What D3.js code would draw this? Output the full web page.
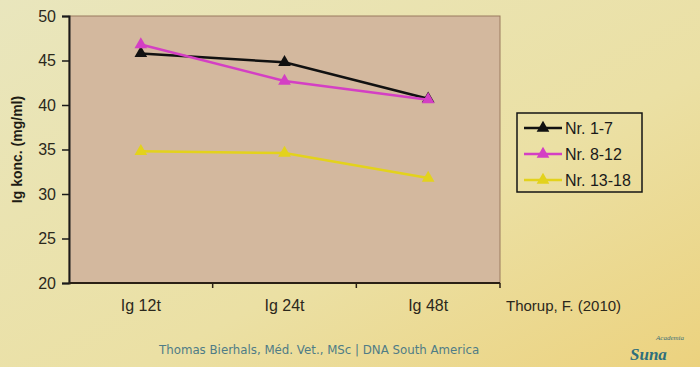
<!DOCTYPE html>
<html>
<head>
<meta charset="utf-8">
<script src="https://cdn.jsdelivr.net/npm/d3@7"></script>
<style>
  body { margin: 0; }
  svg { display: block; }
</style>
</head>
<body>
<div id="container"></div>
<script>
/* CONSTANTS AND GLOBALS */
const width = 700;
const height = 367;
const margin = { top: 16, right: 200, bottom: 84, left: 69 };

/* DATA */
const categories = ["Ig 12t", "Ig 24t", "Ig 48t"];
const seriesNames = ["Nr. 1-7", "Nr. 8-12", "Nr. 13-18"];
const nr1to7 = [45.8, 44.8, 40.7];
const nr8to12 = [46.8, 42.7, 40.6];
const nr13to18 = [34.8, 34.6, 31.8];
const yTicks = [20, 25, 30, 35, 40, 45, 50];
const colors = ["#111111", "#d43fc4", "#e3d21c"];

const series = [nr1to7, nr8to12, nr13to18].map((values, i) => ({
  name: seriesNames[i],
  color: colors[i],
  values: values.map((v, j) => ({ cat: categories[j], value: v }))
}));

const svg = d3.select("#container")
  .append("svg")
  .attr("width", width)
  .attr("height", height);

// background gradient (slide look)
const defs = svg.append("defs");
const bg = defs.append("linearGradient").attr("id", "bg")
  .attr("x1", "0%").attr("y1", "0%").attr("x2", "100%").attr("y2", "100%");
bg.append("stop").attr("offset", "0%").attr("stop-color", "#e9e6bd");
bg.append("stop").attr("offset", "60%").attr("stop-color", "#ebe0a4");
bg.append("stop").attr("offset", "100%").attr("stop-color", "#ecd27e");
svg.append("rect").attr("width", width).attr("height", height).attr("fill", "url(#bg)");

/* SCALES */
const xScale = d3.scaleBand()
  .domain(categories)
  .range([margin.left, width - margin.right]);

const yScale = d3.scaleLinear()
  .domain([20, 50])
  .range([height - margin.bottom, margin.top]);

// plot area
svg.append("rect")
  .attr("x", margin.left)
  .attr("y", margin.top)
  .attr("width", width - margin.right - margin.left)
  .attr("height", height - margin.bottom - margin.top)
  .attr("fill", "#d3b89e")
  .attr("stroke", "#9a7a5e")
  .attr("stroke-width", 1);

/* AXES */
const yAxis = d3.axisLeft(yScale).tickValues(yTicks).tickSize(7).tickPadding(6);
const gy = svg.append("g")
  .attr("transform", `translate(${margin.left},0)`)
  .call(yAxis);
gy.select(".domain").attr("stroke", "#1a1a1a").attr("stroke-width", 2);
gy.selectAll(".tick line").attr("stroke", "#1a1a1a").attr("stroke-width", 1.5);
gy.selectAll(".tick text")
  .attr("font-family", "Liberation Sans, Arial, sans-serif")
  .attr("font-size", 16)
  .attr("fill", "#2b281c");

// x axis: ticks between categories
const xAxisY = height - margin.bottom;
svg.append("line")
  .attr("x1", margin.left).attr("x2", width - margin.right)
  .attr("y1", xAxisY).attr("y2", xAxisY)
  .attr("stroke", "#2a2015").attr("stroke-width", 2);
svg.selectAll(".xtick")
  .data(categories)
  .join("line")
  .attr("class", "xtick")
  .attr("x1", d => xScale(d) + xScale.bandwidth())
  .attr("x2", d => xScale(d) + xScale.bandwidth())
  .attr("y1", xAxisY).attr("y2", xAxisY + 5)
  .attr("stroke", "#2a2015").attr("stroke-width", 1.5);
svg.selectAll(".xlabel")
  .data(categories)
  .join("text")
  .attr("class", "xlabel")
  .attr("x", d => xScale(d) + xScale.bandwidth() / 2)
  .attr("y", xAxisY + 28)
  .attr("text-anchor", "middle")
  .attr("font-family", "Liberation Sans, Arial, sans-serif")
  .attr("font-size", 16)
  .attr("fill", "#2b281c")
  .text(d => d);

// y title
svg.append("text")
  .attr("transform", `translate(22,${(margin.top + height - margin.bottom) / 2}) rotate(-90)`)
  .attr("text-anchor", "middle")
  .attr("font-family", "Liberation Sans, Arial, sans-serif")
  .attr("font-size", 14)
  .attr("font-weight", "bold")
  .attr("fill", "#1e1c14")
  .text("Ig konc. (mg/ml)");

/* LINES */
const line = d3.line()
  .x(d => xScale(d.cat) + xScale.bandwidth() / 2)
  .y(d => yScale(d.value));

const tri = d3.symbol().type(d3.symbolTriangle).size(70);

series.forEach(s => {
  svg.append("path")
    .datum(s.values)
    .attr("d", line)
    .attr("fill", "none")
    .attr("stroke", s.color)
    .attr("stroke-width", 2.5);
  svg.selectAll(null)
    .data(s.values)
    .join("path")
    .attr("transform", d => `translate(${xScale(d.cat) + xScale.bandwidth() / 2},${yScale(d.value)})`)
    .attr("d", tri)
    .attr("fill", s.color);
});

/* LEGEND */
const legend = svg.append("g").attr("transform", "translate(517,113)");
legend.append("rect")
  .attr("width", 125).attr("height", 79)
  .attr("fill", "none")
  .attr("stroke", "#151515")
  .attr("stroke-width", 1.5);
const item = legend.selectAll(".item")
  .data(series)
  .join("g")
  .attr("class", "item")
  .attr("transform", (d, i) => `translate(0,${15 + i * 26})`);
item.append("line")
  .attr("x1", 7).attr("x2", 45)
  .attr("stroke", d => d.color).attr("stroke-width", 2.5);
item.append("path")
  .attr("transform", "translate(26,0)")
  .attr("d", tri)
  .attr("fill", d => d.color);
item.append("text")
  .attr("x", 48).attr("y", 6)
  .attr("font-family", "Liberation Sans, Arial, sans-serif")
  .attr("font-size", 16)
  .attr("fill", "#1a1a1a")
  .text(d => d.name);

/* SOURCE AND FOOTER */
svg.append("text")
  .attr("x", 506).attr("y", xAxisY + 28)
  .attr("font-family", "Liberation Sans, Arial, sans-serif")
  .attr("font-size", 15)
  .attr("fill", "#2b281c")
  .text("Thorup, F. (2010)");

svg.append("text")
  .attr("x", 159).attr("y", 354)
  .attr("font-family", "DejaVu Sans, sans-serif")
  .attr("font-size", 11.8)
  .attr("fill", "#4f7c86")
  .text("Thomas Bierhals, Méd. Vet., MSc | DNA South America");

svg.append("text")
  .attr("x", 656).attr("y", 340)
  .attr("font-family", "Liberation Serif, serif")
  .attr("font-size", 7)
  .attr("font-style", "italic")
  .attr("fill", "#3f6e76")
  .text("Academia");
svg.append("text")
  .attr("x", 630).attr("y", 360)
  .attr("font-family", "Liberation Serif, serif")
  .attr("font-size", 17)
  .attr("font-weight", "bold")
  .attr("font-style", "italic")
  .attr("fill", "#2f6f7c")
  .text("Suna");
</script>
</body>
</html>
